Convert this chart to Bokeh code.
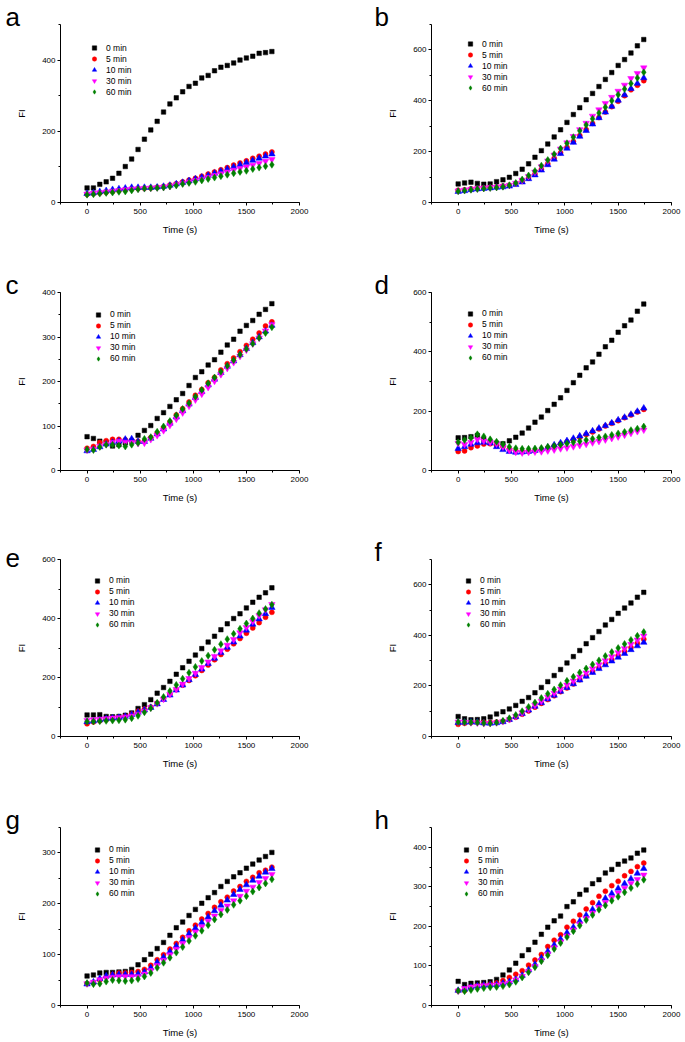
from bokeh.plotting import figure
from bokeh.models import Range1d, SingleIntervalTicker, Legend, LegendItem, Title
from bokeh.layouts import column, row
from bokeh.embed import file_html
from bokeh.resources import INLINE

time_s = [0, 60, 120, 180, 240, 300, 360, 420, 480, 540, 600, 660, 720, 780, 840,
          900, 960, 1020, 1080, 1140, 1200, 1260, 1320, 1380, 1440, 1500, 1560, 1620, 1680, 1740]
series_labels = ["0 min", "5 min", "10 min", "30 min", "60 min"]

a_0 = [41, 41, 51, 58, 68, 82, 101, 122, 149, 178, 204, 228, 254, 277, 294, 311, 326, 335, 350, 357, 370, 380, 385, 392, 400, 406, 411, 419, 421, 424]
a_5 = [23, 25, 27, 29, 31, 34, 36, 38, 39, 40, 41, 43, 45, 49, 53, 58, 63, 68, 74, 80, 86, 92, 98, 105, 111, 117, 124, 130, 136, 142]
a_10 = [25, 27, 30, 33, 36, 38, 40, 42, 42, 42, 42, 43, 45, 48, 52, 56, 61, 66, 71, 76, 82, 88, 94, 100, 106, 112, 118, 124, 130, 136]
a_30 = [24, 26, 28, 30, 32, 34, 36, 38, 39, 40, 41, 42, 43, 46, 50, 54, 58, 62, 66, 71, 76, 81, 86, 91, 96, 100, 105, 110, 116, 121]
a_60 = [22, 23, 25, 27, 28, 30, 31, 34, 37, 39, 40, 41, 42, 45, 48, 52, 55, 58, 62, 66, 70, 74, 78, 82, 86, 89, 94, 98, 102, 106]

b_0 = [73, 77, 80, 75, 72, 73, 82, 89, 99, 114, 131, 152, 178, 204, 230, 258, 286, 315, 346, 373, 404, 429, 456, 484, 511, 539, 562, 588, 616, 641]
b_5 = [48, 50, 54, 56, 58, 60, 62, 65, 68, 74, 83, 96, 112, 131, 152, 174, 196, 217, 240, 263, 287, 311, 334, 356, 377, 398, 420, 443, 461, 479]
b_10 = [43, 46, 50, 53, 55, 57, 59, 61, 64, 70, 80, 93, 108, 127, 148, 170, 192, 213, 236, 260, 283, 308, 333, 355, 378, 402, 423, 448, 468, 490]
b_30 = [46, 49, 52, 55, 57, 59, 61, 64, 68, 76, 88, 103, 120, 141, 164, 187, 211, 235, 260, 287, 312, 340, 365, 390, 414, 438, 462, 488, 508, 530]
b_60 = [44, 47, 50, 53, 55, 57, 59, 62, 68, 77, 90, 106, 124, 145, 167, 190, 212, 233, 257, 282, 305, 329, 352, 375, 400, 424, 446, 468, 490, 512]

c_0 = [76, 72, 66, 63, 55, 58, 62, 66, 79, 90, 101, 117, 130, 144, 159, 173, 191, 209, 222, 237, 249, 266, 282, 295, 313, 326, 337, 351, 362, 375]
c_5 = [50, 54, 63, 67, 70, 70, 69, 68, 66, 66, 74, 84, 96, 109, 125, 139, 154, 169, 182, 197, 209, 226, 240, 253, 267, 281, 295, 309, 325, 334]
c_10 = [44, 47, 53, 59, 63, 66, 70, 71, 65, 65, 72, 82, 93, 106, 120, 134, 149, 164, 177, 192, 205, 220, 234, 246, 260, 274, 287, 300, 313, 326]
c_30 = [46, 48, 55, 59, 63, 66, 64, 63, 61, 62, 70, 79, 90, 102, 116, 130, 145, 159, 172, 187, 201, 216, 230, 243, 257, 271, 285, 298, 314, 328]
c_60 = [47, 46, 53, 58, 58, 56, 54, 58, 62, 71, 75, 87, 99, 111, 124, 138, 151, 166, 181, 196, 209, 222, 235, 248, 260, 273, 285, 298, 309, 322]

d_0 = [110, 111, 114, 118, 105, 96, 92, 90, 100, 112, 126, 143, 163, 180, 202, 223, 245, 270, 296, 321, 346, 366, 392, 417, 439, 466, 488, 507, 537, 561]
d_5 = [64, 66, 77, 83, 89, 90, 84, 80, 72, 66, 64, 65, 67, 70, 76, 83, 90, 97, 104, 112, 121, 130, 140, 150, 159, 168, 178, 187, 197, 206]
d_10 = [74, 80, 88, 93, 95, 92, 80, 70, 64, 61, 62, 64, 67, 72, 78, 86, 93, 100, 108, 116, 124, 133, 142, 151, 160, 170, 179, 189, 199, 210]
d_30 = [92, 88, 95, 105, 100, 95, 90, 80, 68, 62, 60, 62, 63, 64, 67, 70, 74, 77, 81, 85, 89, 94, 99, 104, 109, 114, 120, 126, 132, 137]
d_60 = [95, 103, 110, 122, 115, 105, 97, 88, 80, 75, 73, 73, 74, 76, 80, 83, 87, 91, 95, 99, 103, 107, 111, 115, 120, 125, 130, 136, 141, 148]

e_0 = [73, 73, 74, 68, 67, 68, 72, 80, 95, 108, 125, 147, 166, 187, 211, 233, 255, 276, 298, 320, 340, 362, 382, 400, 416, 436, 455, 472, 487, 504]
e_5 = [43, 49, 53, 57, 60, 64, 69, 76, 86, 93, 100, 113, 128, 143, 159, 174, 190, 206, 224, 242, 260, 278, 296, 314, 332, 350, 368, 386, 404, 421]
e_10 = [50, 52, 56, 60, 62, 64, 68, 74, 82, 90, 98, 110, 125, 140, 157, 174, 192, 210, 228, 247, 265, 284, 302, 320, 340, 360, 380, 398, 416, 437]
e_30 = [55, 57, 59, 61, 63, 64, 66, 70, 76, 86, 98, 112, 127, 143, 160, 178, 197, 215, 234, 253, 272, 291, 310, 329, 352, 370, 390, 410, 430, 448]
e_60 = [51, 51, 52, 53, 54, 55, 57, 62, 70, 82, 96, 114, 134, 154, 175, 196, 216, 236, 256, 274, 294, 313, 330, 348, 365, 383, 400, 418, 432, 447]

f_0 = [79, 70, 66, 67, 70, 77, 89, 98, 109, 123, 139, 154, 173, 194, 217, 241, 265, 291, 316, 340, 367, 391, 415, 441, 463, 487, 508, 528, 551, 570]
f_5 = [48, 52, 55, 56, 56, 56, 57, 60, 66, 76, 88, 101, 116, 131, 146, 161, 177, 192, 208, 224, 240, 256, 272, 288, 304, 320, 336, 352, 369, 385]
f_10 = [55, 56, 57, 56, 53, 52, 54, 58, 67, 78, 90, 104, 119, 133, 148, 163, 178, 193, 208, 223, 238, 253, 268, 283, 298, 313, 328, 343, 358, 372]
f_30 = [58, 56, 55, 54, 52, 52, 55, 60, 68, 80, 94, 108, 124, 140, 156, 172, 188, 204, 220, 236, 252, 268, 284, 300, 316, 332, 348, 365, 382, 398]
f_60 = [57, 56, 56, 55, 53, 52, 55, 62, 72, 85, 100, 117, 134, 152, 169, 186, 203, 220, 236, 253, 269, 285, 301, 318, 334, 350, 366, 382, 398, 413]

g_0 = [58, 60, 64, 65, 65, 66, 67, 71, 80, 90, 101, 112, 124, 138, 153, 164, 177, 189, 201, 212, 222, 234, 244, 253, 261, 270, 278, 286, 293, 301]
g_5 = [43, 45, 50, 56, 61, 64, 64, 65, 67, 71, 79, 90, 100, 111, 122, 134, 147, 158, 170, 181, 193, 204, 213, 225, 234, 244, 252, 261, 266, 272]
g_10 = [42, 46, 53, 58, 60, 61, 61, 61, 62, 66, 74, 85, 95, 106, 117, 129, 141, 152, 163, 174, 186, 197, 207, 218, 228, 237, 246, 254, 262, 269]
g_30 = [43, 46, 51, 54, 56, 57, 57, 57, 57, 62, 69, 79, 89, 100, 111, 122, 134, 145, 155, 166, 176, 187, 196, 206, 215, 225, 233, 242, 250, 258]
g_60 = [44, 42, 43, 47, 50, 49, 48, 49, 52, 57, 64, 74, 84, 94, 104, 115, 127, 137, 147, 158, 169, 179, 188, 198, 206, 215, 224, 232, 240, 248]

h_0 = [61, 53, 56, 57, 58, 60, 66, 77, 90, 107, 126, 141, 160, 180, 198, 214, 226, 250, 262, 281, 292, 308, 318, 335, 344, 357, 365, 373, 385, 393]
h_5 = [37, 38, 44, 50, 52, 54, 57, 63, 71, 79, 88, 102, 115, 129, 149, 165, 179, 198, 213, 229, 244, 260, 276, 289, 303, 314, 328, 339, 351, 360]
h_10 = [38, 41, 46, 49, 51, 52, 53, 56, 60, 66, 76, 90, 104, 120, 137, 153, 168, 184, 198, 213, 228, 243, 257, 271, 283, 296, 308, 320, 334, 346]
h_30 = [37, 43, 47, 49, 50, 51, 52, 54, 57, 65, 74, 86, 99, 114, 130, 146, 161, 176, 191, 206, 220, 234, 248, 261, 273, 285, 297, 309, 319, 330]
h_60 = [37, 36, 39, 42, 44, 46, 47, 49, 53, 60, 71, 84, 97, 112, 127, 143, 158, 173, 188, 202, 216, 229, 242, 253, 265, 275, 286, 297, 307, 318]

y_max = {"a": 500, "b": 700, "c": 400, "d": 600, "e": 600, "f": 700, "g": 350, "h": 450}
y_step = {"a": 200, "b": 200, "c": 100, "d": 200, "e": 200, "f": 200, "g": 100, "h": 100}

MARKERS = ["square", "circle", "triangle", "inverted_triangle", "diamond"]
COLORS = ["#000000", "#ff0000", "#0000ff", "#ff00ff", "#008000"]
SIZES = [4.5, 5, 6.5, 6.5, 7]
FONT = "Liberation Sans"


def make_panel(letter, series, col, rowi):
    if col == 0:
        width, bl, br = 342, 60, 43
    else:
        width, bl, br = 343, 89, 14
    heights = [(262, 24, 60), (268, 30, 60), (266, 29, 60), (245, 31, 36)]
    height, bt, bb = heights[rowi]
    frame_h = height - bt - bb

    p = figure(width=width, height=height,
               x_range=Range1d(-250, 2000), y_range=Range1d(0, y_max[letter]),
               output_backend="svg", toolbar_location=None, tools="",
               min_border_left=bl, min_border_right=br,
               min_border_top=bt, min_border_bottom=bb,
               x_axis_label="Time (s)", y_axis_label="FI")
    p.outline_line_color = None
    p.grid.visible = False
    p.background_fill_color = "white"
    p.border_fill_color = "white"

    p.xaxis.ticker = SingleIntervalTicker(interval=500, num_minor_ticks=2)
    p.yaxis.ticker = SingleIntervalTicker(interval=y_step[letter], num_minor_ticks=2)
    for ax in list(p.xaxis) + list(p.yaxis):
        ax.axis_line_color = "#000000"
        ax.axis_line_width = 1
        ax.major_tick_line_color = "#000000"
        ax.minor_tick_line_color = "#000000"
        ax.major_tick_in = 0
        ax.major_tick_out = 3
        ax.minor_tick_in = 0
        ax.minor_tick_out = 2
        ax.major_label_text_font = FONT
        ax.major_label_text_font_size = "8px"
        ax.major_label_text_color = "#000000"
        ax.axis_label_text_font = FONT
        ax.axis_label_text_font_size = "9.5px"
        ax.axis_label_text_font_style = "normal"
        ax.axis_label_text_color = "#000000"
    p.xaxis.major_label_standoff = 3
    p.xaxis.axis_label_standoff = 7
    p.yaxis.major_label_standoff = 2
    p.yaxis.axis_label_standoff = 12

    items = []
    for i, ys in enumerate(series):
        r = p.scatter(x=time_s, y=ys, marker=MARKERS[i], size=SIZES[i],
                      fill_color=COLORS[i], line_color=COLORS[i], line_width=0.5)
        items.append(LegendItem(label=series_labels[i], renderers=[r]))

    leg_marker_x = {"a": 36, "b": 41, "c": 40, "d": 41, "e": 39, "f": 39, "g": 39, "h": 37}[letter]
    leg_first_y = {"a": 21.7, "b": 17.7, "c": 20, "d": 19, "e": 19, "f": 19, "g": 20, "h": 20}[letter]
    pad, gw, rh = 2, 12, 11
    leg_h = 2 * pad + 5 * rh
    vx = leg_marker_x - pad - gw / 2
    top = leg_first_y - pad - rh / 2
    vy = frame_h - top - leg_h
    legend = Legend(items=items, location=(vx, vy), padding=pad, margin=0, spacing=0,
                    glyph_width=gw, glyph_height=rh, label_height=rh, label_standoff=6,
                    label_text_font=FONT, label_text_font_size="8.5px",
                    label_text_color="#000000",
                    border_line_color=None, background_fill_alpha=0)
    p.add_layout(legend)

    title = Title(text=letter, align="left", vertical_align="middle",
                  offset=(-55 if col == 0 else -57), standoff=-16,
                  text_font=FONT, text_font_size="26px", text_font_style="normal",
                  text_color="#000000")
    p.add_layout(title, "above")
    return p


panels = [
    ("a", [a_0, a_5, a_10, a_30, a_60]), ("b", [b_0, b_5, b_10, b_30, b_60]),
    ("c", [c_0, c_5, c_10, c_30, c_60]), ("d", [d_0, d_5, d_10, d_30, d_60]),
    ("e", [e_0, e_5, e_10, e_30, e_60]), ("f", [f_0, f_5, f_10, f_30, f_60]),
    ("g", [g_0, g_5, g_10, g_30, g_60]), ("h", [h_0, h_5, h_10, h_30, h_60]),
]

figs = [make_panel(letter, s, k % 2, k // 2) for k, (letter, s) in enumerate(panels)]
layout = column(*[row(figs[2 * r], figs[2 * r + 1]) for r in range(4)])

open("out.html", "w").write(file_html(layout, INLINE))
